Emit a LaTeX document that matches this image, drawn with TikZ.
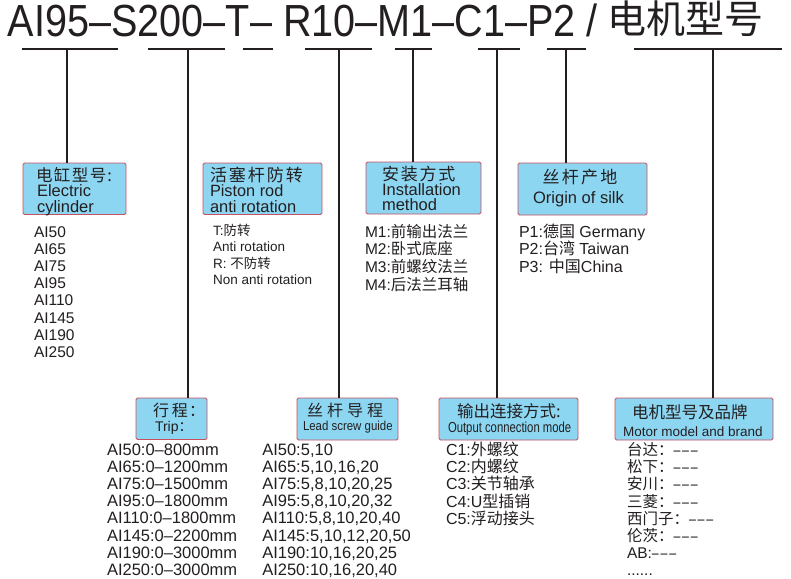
\documentclass[tikz,border=0pt]{standalone}
\usepackage{graphicx}
\usepackage{fontspec}
\setmainfont{Liberation Sans}
\newfontfamily\cjk{Noto Sans CJK SC}
\newcommand\fsz[1]{\fontsize{#1}{#1}\selectfont}
\newcommand\sixdots{......}
\newcommand\onedash{\scalebox{0.8}[1]{–}}
\newcommand\tridash{\onedash\kern1.8pt\onedash\kern1.8pt\onedash}
\newcommand\ks[1]{\kern#1pt}
\definecolor{boxblue}{HTML}{8CD6F2}
\definecolor{boxred}{HTML}{C8505F}
\definecolor{ink}{HTML}{231F20}
\tikzset{
  box/.style={draw=boxred, fill=boxblue, line width=0.9pt, rounded corners=1.5pt, inner sep=0pt, outer sep=0pt},
  txt/.style={anchor=base west, inner sep=0pt, outer sep=0pt, text=ink},
  ctxt/.style={anchor=base, inner sep=0pt, outer sep=0pt, text=ink},
  conn/.style={line width=2.4pt, draw=ink}
}
\begin{document}
\begin{tikzpicture}[x=1pt,y=-1pt]
\useasboundingbox[fill=white] (0,0) rectangle (791,578);
% title
\node[txt, font=\fsz{45}] (title) at (8,37) {\scalebox{0.88}[1]{AI95–S200–T– R10–M1–C1–P2 /}};
\node[txt, font=\fsz{39}\cjk] (titlecn) at (607,34) {电机型号};
% underline segments
\coordinate (s1a) at (22,49);  \coordinate (s1b) at (118,49); \coordinate (s1m) at (67,49);
\coordinate (s2a) at (148,49); \coordinate (s2b) at (225,49); \coordinate (s2m) at (188,49);
\coordinate (s3a) at (243,49); \coordinate (s3b) at (273,49);
\coordinate (s4a) at (305,49); \coordinate (s4b) at (372,49); \coordinate (s4m) at (339,49);
\coordinate (s5a) at (395,49); \coordinate (s5b) at (432,49); \coordinate (s5m) at (413,49);
\coordinate (s6a) at (478,49); \coordinate (s6b) at (520,49); \coordinate (s6m) at (497,49);
\coordinate (s7a) at (547,49); \coordinate (s7b) at (586,49); \coordinate (s7m) at (566,49);
\coordinate (s8a) at (634,49); \coordinate (s8b) at (782,49); \coordinate (s8m) at (713,49);
% boxes
\node[box, minimum width=103pt, minimum height=51.5pt] (b1) at (74.5,188.75) {};
\node[box, minimum width=119pt, minimum height=51.5pt] (b2) at (262.5,188.75) {};
\node[box, minimum width=115pt, minimum height=52pt] (b3) at (423.5,188) {};
\node[box, minimum width=129pt, minimum height=52pt] (b4) at (582.5,189) {};
\node[box, minimum width=71pt, minimum height=41.5pt] (b5) at (171.5,418.75) {};
\node[box, minimum width=101pt, minimum height=42pt] (b6) at (347.5,419) {};
\node[box, minimum width=139pt, minimum height=42pt] (b7) at (508.5,419) {};
\node[box, minimum width=158pt, minimum height=42pt] (b8) at (694,419) {};
% connectors
\foreach \s in {1,2,3,4,5,6,7,8} \draw[conn] (s\s a) -- (s\s b);
\draw[conn] (s1m) -- (s1m |- b1.north);
\draw[conn] (s2m) -- (s2m |- b5.north);
\draw[conn] (s4m) -- (s4m |- b6.north);
\draw[conn] (s5m) -- (s5m |- b3.north);
\draw[conn] (s6m) -- (s6m |- b7.north);
\draw[conn] (s7m) -- (s7m |- b4.north);
\draw[conn] (s8m) -- (s8m |- b8.north);
% box 1
\node[txt, font=\fsz{16.5}\cjk] (b1t1) at (36,181) {电\ks{1.5}缸\ks{1.5}型\ks{1.5}号\ks{1}:};
\node[txt, font=\fsz{16.5}] (b1t2) at (37,196) {Electric};
\node[txt, font=\fsz{16.5}] (b1t3) at (37,212) {cylinder};
% box 2
\node[txt, font=\fsz{17}\cjk] (b2t1) at (210,181) {活\ks{2}塞\ks{2}杆\ks{2}防\ks{2}转};
\node[txt, font=\fsz{16.3}] (b2t2) at (210,196.7) {Piston rod};
\node[txt, font=\fsz{16.5}] (b2t3) at (210,212.7) {anti rotation};
% box 3
\node[txt, font=\fsz{17}\cjk] (b3t1) at (382,180.5) {安\ks{1.8}装\ks{1.8}方\ks{1.8}式};
\node[txt, font=\fsz{16.5}] (b3t2) at (382,195) {Installation};
\node[txt, font=\fsz{16.5}] (b3t3) at (382,210.7) {method};
% box 4
\node[ctxt, font=\fsz{17}\cjk] (b4t1) at (580,183.5) {丝\ks{2.3}杆\ks{2.3}产\ks{2.3}地};
\node[ctxt, font=\fsz{16.5}] (b4t2) at (578.5,203.3) {Origin of silk};
% box 5
\node[txt, font=\fsz{16}\cjk] (b5t1) at (153,416) {行\ks{3}程\ks{1}：};
\node[txt, font=\fsz{14}] (b5t2) at (155,431.7) {Trip{\cjk ：}};
% box 6
\node[txt, font=\fsz{16}\cjk] (b6t1) at (307,416.5) {丝\ks{4}杆\ks{4}导\ks{4}程};
\node[txt, font=\fsz{13}] (b6t2) at (303,430.3) {\scalebox{0.88}[1]{Lead screw guide}};
% box 7
\node[txt, font=\fsz{16.5}\cjk] (b7t1) at (457,417) {输出连接方式:};
\node[txt, font=\fsz{14.5}] (b7t2) at (448,432.7) {\scalebox{0.78}[1]{Output connection mode}};
% box 8
\node[txt, font=\fsz{16.5}\cjk] (b8t1) at (632,418) {电机型号及品牌};
\node[txt, font=\fsz{13.5}] (b8t2) at (623,436.7) {Motor model and brand};
% lists
\foreach \t [count=\i from 0] in {AI50,AI65,AI75,AI95,AI110,AI145,AI190,AI250}
  \node[txt, font=\fsz{15.5}] (l1-\i) at (34,237.3+17.14*\i) {\t};
\foreach \t [count=\i from 0] in {{T:{\cjk 防转}},{Anti rotation},{R: {\cjk 不防转}},{Non anti rotation}}
  \node[txt, font=\fsz{13.5}] (l2-\i) at (213,235+16.5*\i) {\t};
\foreach \t [count=\i from 0] in {{M1:{\cjk 前输出法兰}},{M2:{\cjk 卧式底座}},{M3:{\cjk 前螺纹法兰}},{M4:{\cjk 后法兰耳轴}}}
  \node[txt, font=\fsz{15.5}] (l3-\i) at (365,237.3+17.6*\i) {\t};
\foreach \t [count=\i from 0] in {{P1:{\cjk 德国} Germany},{P2:{\cjk 台湾} Taiwan},{P3: {\cjk 中国}China}}
  \node[txt, font=\fsz{16}] (l4-\i) at (519,237.3+17.5*\i) {\t};
\foreach \t [count=\i from 0] in {AI50:0–800mm,AI65:0–1200mm,AI75:0–1500mm,AI95:0–1800mm,AI110:0–1800mm,AI145:0–2200mm,AI190:0–3000mm,AI250:0–3000mm}
  \node[txt, font=\fsz{16.5}] (l5-\i) at (107,455+17.24*\i) {\t};
\foreach \t [count=\i from 0] in {{AI50:5,10},{AI65:5,10,16,20},{AI75:5,8,10,20,25},{AI95:5,8,10,20,32},{AI110:5,8,10,20,40},{AI145:5,10,12,20,50},{AI190:10,16,20,25},{AI250:10,16,20,40}}
  \node[txt, font=\fsz{16.5}] (l6-\i) at (262.3,455+17.24*\i) {\t};
\foreach \t [count=\i from 0] in {{C1:{\cjk 外螺纹}},{C2:{\cjk 内螺纹}},{C3:{\cjk 关节轴承}},{C4:U{\cjk 型插销}},{C5:{\cjk 浮动接头}}}
  \node[txt, font=\fsz{16}] (l7-\i) at (446,455.7+17.1*\i) {\t};
\foreach \t [count=\i from 0] in {{{\cjk 台达：}\tridash},{{\cjk 松下：}\tridash},{{\cjk 安川：}\tridash},{{\cjk 三菱：}\tridash},{{\cjk 西门子：}\tridash},{{\cjk 伦茨：}\tridash},{AB:\tridash},{\sixdots}}
  \node[txt, font=\fsz{15.5}] (l8-\i) at (627,455.7+17.1*\i) {\t};
\end{tikzpicture}
\end{document}
